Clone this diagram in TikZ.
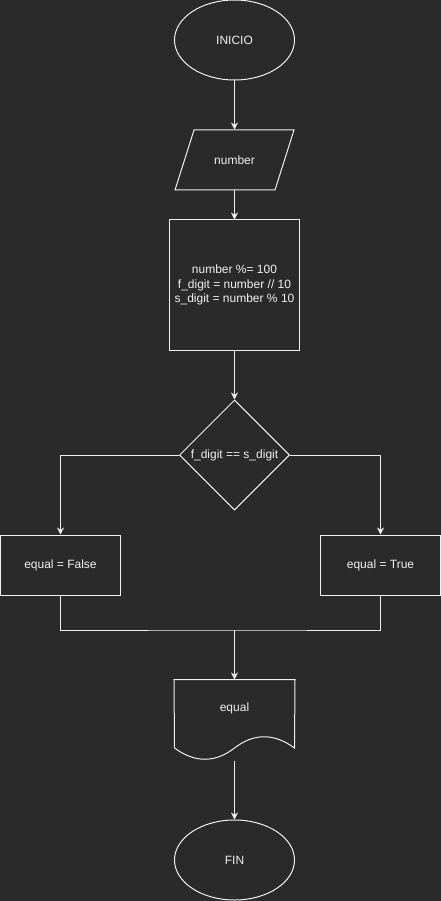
\documentclass[tikz,border=0pt]{standalone}
\usepackage{fontspec}
\setmainfont{Liberation Sans}
\usetikzlibrary{arrows.meta,shapes.geometric,positioning}
\definecolor{bgdark}{HTML}{2A2A2A}
\definecolor{fgline}{HTML}{F0F0F0}
\tikzset{
  base/.style={
    draw = fgline,
    line width = 1pt,
    text = fgline,
    inner sep = 0pt,
    align = center,
    font = \fontsize{12}{14.5}\selectfont
  },
  terminal/.style={
    base,
    shape = ellipse,
    minimum width = 120pt,
    minimum height = 80pt
  },
  process/.style={
    base,
    shape = rectangle,
    minimum width = 120pt,
    minimum height = 60pt
  },
  decision/.style={
    base,
    shape = diamond,
    minimum width = 110pt,
    minimum height = 110pt
  },
  hidden/.style={
    base,
    draw = none
  },
  flow/.style={
    draw = fgline,
    line width = 1pt,
    -{Stealth[length=7pt,width=7pt]}
  },
  wire/.style={
    draw = fgline,
    line width = 1pt
  }
}

\begin{document}
\begin{tikzpicture}[x=1pt,y=-1pt]
  \fill[bgdark] (0,0) rectangle (441,901);
  \useasboundingbox (0,0) rectangle (441,901);

  \node[terminal] (start) at (234.5,40) {INICIO};
  % input as a leaning box
  \node[hidden, minimum width=100pt, minimum height=60pt] (inp) at (234.5,160) {number};
  \draw[wire] (175,190) -- (194,130) -- (294,130) -- (275,190) -- cycle;
  \node[process, minimum width=130pt, minimum height=130pt] (calc) at (234.5,285)
    {number \%= 100\\f\_digit = number // 10\\s\_digit = number \% 10};
  \node[decision, label={[text=fgline, font=\fontsize{12}{14.5}\selectfont]center:f\_digit == s\_digit}] (cond) at (234.5,455) {};
  \node[process] (fbox) at (60.5,565) {equal = False};
  \node[process] (tbox) at (380.5,565) {equal = True};
  \coordinate (join) at (234.5,630);
  % output as a document
  \node[hidden, minimum width=120pt, minimum height=80pt] (out) at (234.5,720) {};
  \node[hidden] at (234.5,708) {equal};
  \draw[wire] (out.north west) -- (out.north east) -- (294.5,748)
    .. controls (274,733) and (254,733) .. (234.5,748)
    .. controls (215,763) and (195,763) .. (174.5,748) -- cycle;
  \node[terminal] (stop) at (234.5,860) {FIN};

  \draw[flow] (start) -- (inp);
  \draw[flow] (inp) -- (calc);
  \draw[flow] (calc) -- (cond);
  \draw[flow] (cond.west) -| (fbox.north);
  \draw[flow] (cond.east) -| (tbox.north);
  \draw[wire] (fbox.south) |- (join) -| (tbox.south);
  \draw[flow] (join) -- (out.north);
  \draw[flow] (out.south) -- (stop);
\end{tikzpicture}
\end{document}
